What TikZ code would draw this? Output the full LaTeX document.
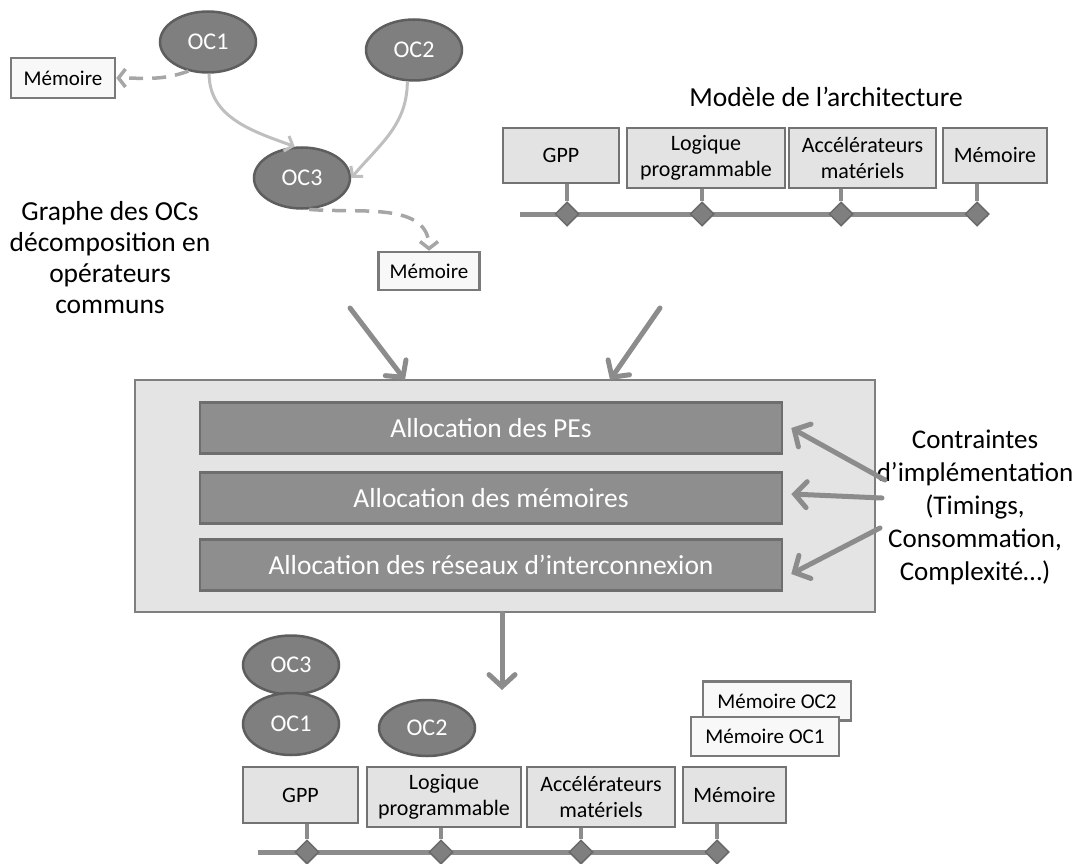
\documentclass[tikz,border=0pt]{standalone}
\usepackage{fontspec}
\setmainfont{Carlito}
\usetikzlibrary{arrows.meta,shapes.geometric}
\definecolor{ocfill}{HTML}{7F7F7F}
\definecolor{ocdraw}{HTML}{5E5E5E}
\definecolor{boxfill}{HTML}{E3E3E3}
\definecolor{boxdraw}{HTML}{737373}
\definecolor{memfill}{HTML}{F8F8F8}
\definecolor{memdraw}{HTML}{7A7A7A}
\definecolor{bigfill}{HTML}{E4E4E4}
\definecolor{bigdraw}{HTML}{7F7F7F}
\definecolor{allocfill}{HTML}{8E8E8E}
\definecolor{allocdraw}{HTML}{6E6E6E}
\definecolor{arrgray}{HTML}{8C8C8C}
\definecolor{lightgray2}{HTML}{BFBFBF}
\definecolor{dashgray}{HTML}{A6A6A6}
\definecolor{busgray}{HTML}{8C8C8C}
\definecolor{diafill}{HTML}{7F7F7F}
\definecolor{diadraw}{HTML}{6A6A6A}
\tikzset{
  ocnode/.style={ellipse, fill=ocfill, draw=ocdraw, line width=2.5pt, inner sep=0pt,
    text=white, font=\fontsize{24}{28}\selectfont},
  archbox/.style={rectangle, fill=boxfill, draw=boxdraw, line width=2.5pt, inner sep=0pt,
    align=center, font=\fontsize{22}{25.5}\selectfont},
  membox/.style={rectangle, fill=memfill, draw=memdraw, line width=2.5pt, inner sep=0pt,
    align=center, font=\fontsize{21}{25}\selectfont},
  allocbox/.style={rectangle, fill=allocfill, draw=allocdraw, line width=2.5pt, inner sep=0pt,
    text=white, minimum width=582pt, minimum height=51pt, font=\fontsize{27.5}{31}\selectfont},
  bigtext/.style={align=center, font=\fontsize{27.5}{31}\selectfont},
  busdia/.style={diamond, fill=diafill, draw=diadraw, line width=1.5pt, inner sep=0pt,
    minimum width=24pt, minimum height=24pt},
  busline/.style={draw=busgray, line width=5pt},
  stemline/.style={draw=busgray, line width=4pt},
  thickarr/.style={draw=arrgray, line width=5pt, line cap=round,
    -{Straight Barb[length=12pt,width=26pt,line cap=round]}},
  lightarr/.style={draw=lightgray2, line width=3pt,
    -{Straight Barb[length=7pt,width=16pt]}},
  dasharr/.style={draw=dashgray, line width=3.5pt, dash pattern=on 14pt off 9pt,
    -{Straight Barb[length=7pt,width=18pt]}},
}
\begin{document}
\begin{tikzpicture}[x=1pt,y=-1pt]
\useasboundingbox (0,0) rectangle (1076,864);

% ---------- Graph of OCs ----------
\node[ocnode, minimum width=96pt, minimum height=61pt] (oc1) at (208,42) {OC1};
\node[ocnode, minimum width=96pt, minimum height=61pt] (oc2) at (414,50) {OC2};
\node[ocnode, minimum width=96pt, minimum height=61pt] (oc3) at (302,178) {OC3};
\node[membox, minimum width=104pt, minimum height=40pt] (m1) at (63,78) {Mémoire};
\node[membox, minimum width=101pt, minimum height=38pt] (m2) at (429,271) {Mémoire};
\node[bigtext] (graphe) at (110,258) {Graphe des OCs\\décomposition en\\opérateurs\\communs};

\draw[dasharr] (oc1.236) to[out=200,in=0] (m1.east);
\draw[lightarr] (oc1.272) to[out=-90,in=160] (oc3.103);
\draw[lightarr] (oc2.258) to[out=-90,in=50] (oc3.east);
\draw[dasharr] (oc3.283) to[out=-5,in=90] (m2.north);

% ---------- Architecture model ----------
\node[bigtext] (title) at (826,97) {Modèle de l’architecture};
\node[archbox, minimum width=116pt, minimum height=55pt] (aGPP) at (561,155.5) {GPP};
\node[archbox, minimum width=158pt, minimum height=60pt] (aLog) at (706,158) {Logique\\programmable};
\node[archbox, minimum width=147pt, minimum height=60pt] (aAcc) at (862.5,158) {Accélérateurs\\matériels};
\node[archbox, minimum width=104pt, minimum height=55pt] (aMem) at (995,155.5) {Mémoire};

\coordinate (abusL) at (520,214);
\coordinate (abusR) at (988,214);
\draw[busline] (abusL) -- (abusR);
\node[busdia] (ad1) at (567,214) {};
\node[busdia] (ad2) at (702,214) {};
\node[busdia] (ad3) at (841,214) {};
\node[busdia] (ad4) at (977,214) {};
\draw[stemline] (aGPP.south -| ad1) -- (ad1.north);
\draw[stemline] (aLog.south -| ad2) -- (ad2.north);
\draw[stemline] (aAcc.south -| ad3) -- (ad3.north);
\draw[stemline] (aMem.south -| ad4) -- (ad4.north);

% ---------- Allocation block ----------
\node[rectangle, fill=bigfill, draw=bigdraw, line width=2.5pt, minimum width=740pt,
  minimum height=232pt, inner sep=0pt] (big) at (505,496) {};
\node[allocbox] (al1) at (491,428) {Allocation des PEs};
\node[allocbox] (al2) at (491,498) {Allocation des mémoires};
\node[allocbox] (al3) at (491,565) {Allocation des réseaux d’interconnexion};

\coordinate (inL) at (350,308);
\coordinate (inLend) at (405,380);
\coordinate (inR) at (660,308);
\coordinate (inRend) at (610,380);
\draw[thickarr] (inL) -- (inLend);
\draw[thickarr] (inR) -- (inRend);

\node[bigtext, font=\fontsize{27}{33}\selectfont] (contr) at (975,507)
  {Contraintes\\d’implémentation\\(Timings,\\Consommation,\\Complexité…)};
\coordinate (c1) at (885,480);
\coordinate (c2) at (882,498);
\coordinate (c3) at (880,528);
\draw[thickarr] (c1) -- ([xshift=8pt]al1.east);
\draw[thickarr] (c2) -- ([xshift=8pt,yshift=4pt]al2.east);
\draw[thickarr] (c3) -- ([xshift=8pt,yshift=-9pt]al3.east);

\coordinate (outEnd) at (502,690);
\draw[thickarr] (big.south -| outEnd) -- (outEnd);

% ---------- Resulting mapping ----------
\node[ocnode, minimum width=96pt, minimum height=59pt] (boc3) at (291,665) {OC3};
\node[ocnode, minimum width=96pt, minimum height=62pt] (boc1) at (291,724) {OC1};
\node[ocnode, minimum width=96pt, minimum height=56pt] (boc2) at (427,728) {OC2};
\node[membox, minimum width=148pt, minimum height=39pt] (mo2) at (777,701) {Mémoire OC2};
\node[membox, minimum width=148pt, minimum height=39pt] (mo1) at (765,736.5) {Mémoire OC1};

\node[archbox, minimum width=115pt, minimum height=56pt] (bGPP) at (300.5,795) {GPP};
\node[archbox, minimum width=154pt, minimum height=60pt] (bLog) at (444,797) {Logique\\programmable};
\node[archbox, minimum width=148pt, minimum height=60pt] (bAcc) at (601,797) {Accélérateurs\\matériels};
\node[archbox, minimum width=103pt, minimum height=56pt] (bMem) at (734.5,795) {Mémoire};

\coordinate (bbusL) at (258,852);
\coordinate (bbusR) at (727,852);
\draw[busline] (bbusL) -- (bbusR);
\node[busdia] (bd1) at (307,852) {};
\node[busdia] (bd2) at (441,852) {};
\node[busdia] (bd3) at (581,852) {};
\node[busdia] (bd4) at (717,852) {};
\draw[stemline] (bGPP.south -| bd1) -- (bd1.north);
\draw[stemline] (bLog.south -| bd2) -- (bd2.north);
\draw[stemline] (bAcc.south -| bd3) -- (bd3.north);
\draw[stemline] (bMem.south -| bd4) -- (bd4.north);
\end{tikzpicture}
\end{document}
